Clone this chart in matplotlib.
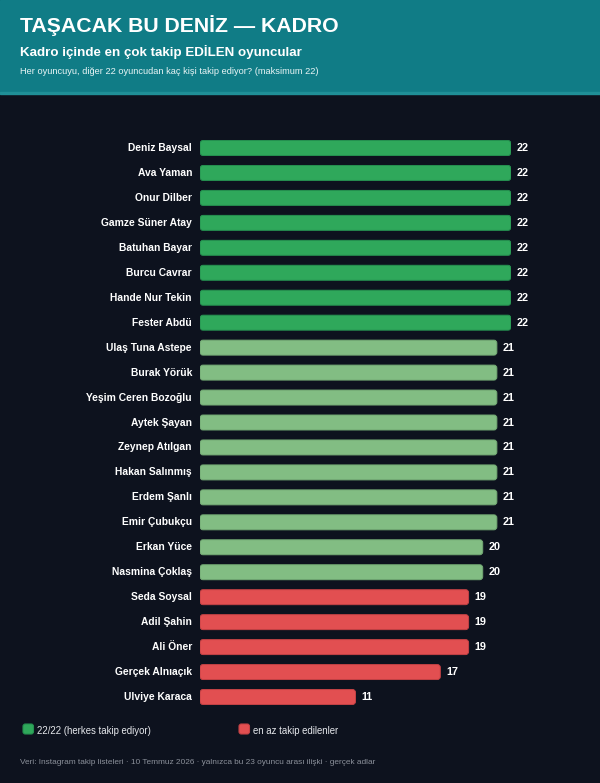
import matplotlib
matplotlib.use("Agg")
import matplotlib.pyplot as plt
from matplotlib.patches import FancyBboxPatch, Rectangle

plt.rcParams['font.family'] = ['Liberation Sans', 'DejaVu Sans']

names = ["Deniz Baysal", "Ava Yaman", "Onur Dilber", "Gamze Süner Atay", "Batuhan Bayar",
         "Burcu Cavrar", "Hande Nur Tekin", "Fester Abdü", "Ulaş Tuna Astepe", "Burak Yörük",
         "Yeşim Ceren Bozoğlu", "Aytek Şayan", "Zeynep Atılgan", "Hakan Salınmış", "Erdem Şanlı",
         "Emir Çubukçu", "Erkan Yüce", "Nasmina Çoklaş", "Seda Soysal", "Adil Şahin",
         "Ali Öner", "Gerçek Alnıaçık", "Ulviye Karaca"]
values = [22, 22, 22, 22, 22, 22, 22, 22, 21, 21, 21, 21, 21, 21, 21, 21, 20, 20, 19, 19, 19, 17, 11]
groups = ["full"] * 8 + ["mid"] * 10 + ["low"] * 5

title = "TAŞACAK BU DENİZ — KADRO"
subtitle = "Kadro içinde en çok takip EDİLEN oyuncular"
note = "Her oyuncuyu, diğer 22 oyuncudan kaç kişi takip ediyor? (maksimum 22)"
legend_labels = ["22/22 (herkes takip ediyor)", "en az takip edilenler"]
footer = "Veri: Instagram takip listeleri · 10 Temmuz 2026 · yalnızca bu 23 oyuncu arası ilişki · gerçek adlar"

W, H = 600, 783
BG = "#0d121e"
face = {"full": "#2fa85b", "mid": "#82bd83", "low": "#e24f51"}
edge = {"full": "#259150", "mid": "#72a973", "low": "#c44245"}

fig = plt.figure(figsize=(W / 100, H / 100), dpi=100)
fig.patch.set_facecolor(BG)

def fx(px):
    return px / W

def fy(py):
    return 1 - py / H

# header
fig.add_artist(Rectangle((0, fy(93)), 1, 93 / H, transform=fig.transFigure, color="#107c86", zorder=0))
fig.add_artist(Rectangle((0, fy(94)), 1, 1.6 / H, transform=fig.transFigure, color="#1f8f97", zorder=0))
fig.text(fx(20), fy(26), title, color="white", fontsize=15.3, fontweight="bold", va="center", ha="left")
fig.text(fx(20), fy(52), subtitle, color="white", fontsize=9.6, fontweight="bold", va="center", ha="left")
fig.text(fx(20), fy(71.5), note, color="#e8f4f5", fontsize=6.65, va="center", ha="left")

# axes: x 200..511 for 0..22 ; rows centered 148..697
top_px, bot_px = 148 - 12.48, 697 + 12.48
ax = fig.add_axes([fx(200), fy(bot_px), fx(511) - fx(200), (bot_px - top_px) / H])
ax.set_facecolor("none")
ax.set_xlim(0, 22)
ax.set_ylim(len(names) - 0.5, -0.5)
ax.axis("off")

ypos = list(range(len(names)))
bars = ax.barh(ypos, values, height=0.6, color=[face[g] for g in groups])
px_per_x = 311 / 22
px_per_y = (bot_px - top_px) / len(names)
r_px = 3.0
for b, g, v, yy in zip(bars, groups, values, ypos):
    x0, y0, w, h = b.get_x(), b.get_y(), b.get_width(), b.get_height()
    b.set_visible(False)
    p = FancyBboxPatch((x0, y0), w, h,
                       boxstyle=f"round,pad=0,rounding_size={r_px / px_per_x}",
                       mutation_aspect=px_per_x / px_per_y,
                       facecolor=face[g], edgecolor=edge[g], linewidth=0.7)
    ax.add_patch(p)
    ax.text(v + 6 / px_per_x, yy, str(v), color="white", fontsize=7.8, fontweight="bold",
            va="center", ha="left", clip_on=False)
    ax.text(-8 / px_per_x, yy, names[yy], color="white", fontsize=7.4, fontweight="bold",
            va="center", ha="right", clip_on=False)

# legend
for (lx, col, ec, lab) in [(23, face["full"], edge["full"], legend_labels[0]),
                           (239, face["low"], edge["low"], legend_labels[1])]:
    sq = FancyBboxPatch((fx(lx), fy(734)), fx(10.5), 10 / H,
                        boxstyle="round,pad=0,rounding_size=0.004",
                        mutation_aspect=W / H,
                        transform=fig.transFigure, facecolor=col, edgecolor=ec, linewidth=0.8)
    fig.add_artist(sq)
    fig.text(fx(lx + 14), fy(731), lab, color="#e6e8ec", fontsize=6.9, va="center", ha="left")

fig.text(fx(20), fy(763), footer, color="#8b909a", fontsize=5.95, va="center", ha="left")

fig.savefig("out.png", dpi=100, facecolor=BG)
